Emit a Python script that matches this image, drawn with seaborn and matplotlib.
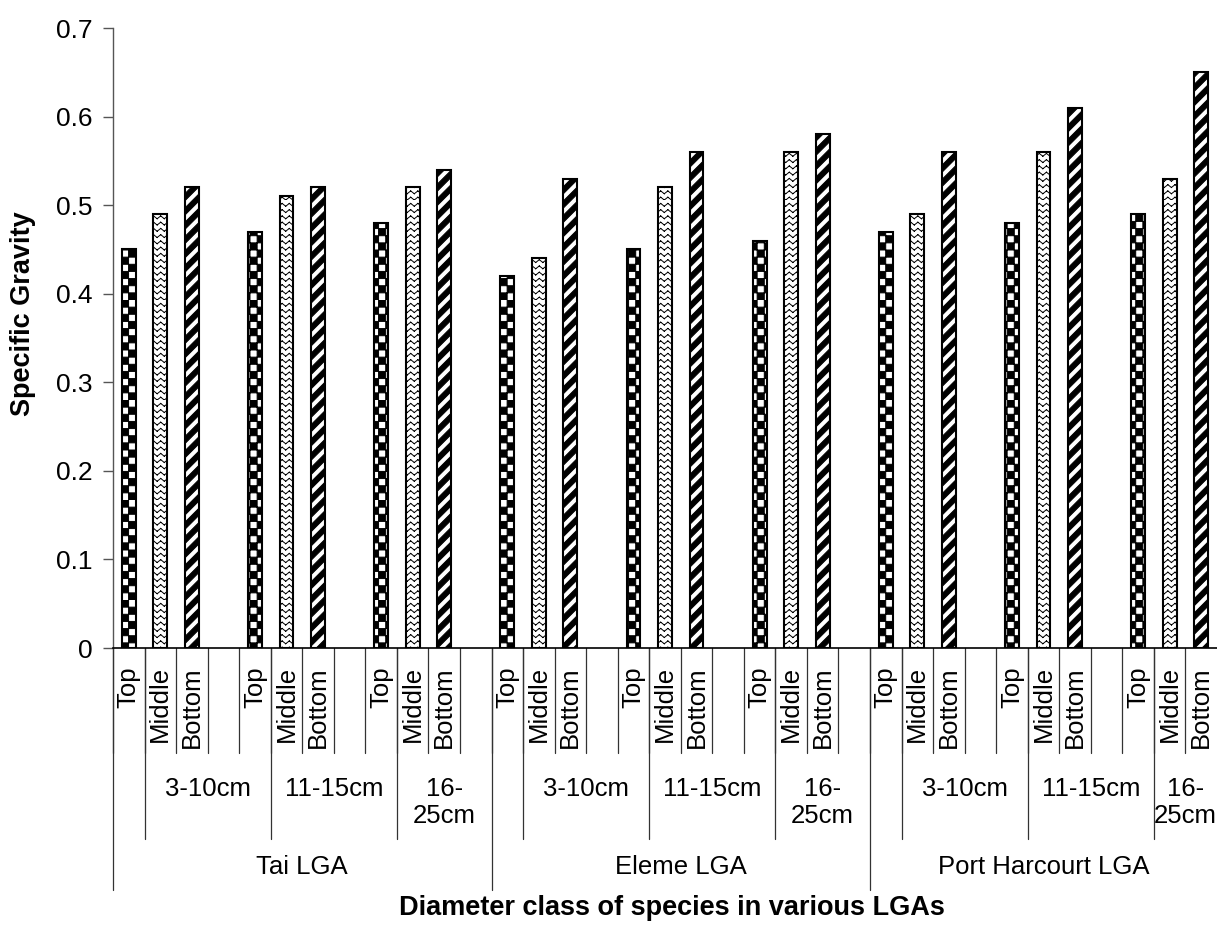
import numpy as np
import pandas as pd
import seaborn as sns
import matplotlib
matplotlib.use("Agg")
import matplotlib.pyplot as plt
import matplotlib.hatch as mhatch
from matplotlib.path import Path
from matplotlib.transforms import blended_transform_factory

# data
lgas = ["Tai LGA", "Eleme LGA", "Port Harcourt LGA"]
classes = ["3-10cm", "11-15cm", "16-25cm"]
class_text = ["3-10cm", "11-15cm", "16-\n25cm"]
positions = ["Top", "Middle", "Bottom"]
tai = [0.45, 0.49, 0.52, 0.47, 0.51, 0.52, 0.48, 0.52, 0.54]
eleme = [0.42, 0.44, 0.53, 0.45, 0.52, 0.56, 0.46, 0.56, 0.58]
port_harcourt = [0.47, 0.49, 0.56, 0.48, 0.56, 0.61, 0.49, 0.53, 0.65]
y_ticks = [0, 0.1, 0.2, 0.3, 0.4, 0.5, 0.6, 0.7]
y_tick_labels = ["0", "0.1", "0.2", "0.3", "0.4", "0.5", "0.6", "0.7"]


# Excel-like fill patterns as custom hatches
class CheckerHatch(mhatch.HatchPatternBase):
    n = 14

    def __init__(self, hatch, density):
        self.num_vertices = (self.n * self.n // 2) * 5 if "." in hatch else 0

    def set_vertices_and_codes(self, vertices, codes):
        s = 1.0 / self.n
        pts = []
        for i in range(self.n):
            for j in range(self.n):
                if (i + j) % 2 == 0:
                    x, y = i * s, j * s
                    pts += [(x, y), (x + s, y), (x + s, y + s), (x, y + s), (x, y)]
        vertices[:] = pts
        codes[:] = np.tile([Path.MOVETO, Path.LINETO, Path.LINETO,
                            Path.LINETO, Path.CLOSEPOLY], len(pts) // 5)


class StripeHatch(mhatch.HatchPatternBase):
    n = 7
    frac = 0.5

    def __init__(self, hatch, density):
        self.num_vertices = (2 * self.n + 1) * 5 if "/" in hatch else 0

    def set_vertices_and_codes(self, vertices, codes):
        s = 1.0 / self.n
        w = s * self.frac
        pts = []
        for k in range(-self.n, self.n + 1):
            y0 = k * s
            pts += [(0, y0), (1, y0 + 1), (1, y0 + 1 + w), (0, y0 + w), (0, y0)]
        vertices[:] = pts
        codes[:] = np.tile([Path.MOVETO, Path.LINETO, Path.LINETO,
                            Path.LINETO, Path.CLOSEPOLY], len(pts) // 5)


class ZigzagHatch(mhatch.HatchPatternBase):
    rows = 16
    cols = 14

    def __init__(self, hatch, density):
        self.num_vertices = self.rows * self.cols * 4 if "*" in hatch else 0

    def set_vertices_and_codes(self, vertices, codes):
        a = 0.45 / self.rows
        pts = []
        for r in range(self.rows):
            y = r / self.rows
            for c in range(self.cols):
                x0, xm, x1 = c / self.cols, (c + 0.5) / self.cols, (c + 1) / self.cols
                pts += [(x0, y), (xm, y + a), (xm, y + a), (x1, y)]
        vertices[:] = pts
        codes[:] = np.tile([Path.MOVETO, Path.LINETO], len(pts) // 2)


ht = mhatch._hatch_types
ht[ht.index(mhatch.SmallFilledCircles)] = CheckerHatch
ht[ht.index(mhatch.NorthEastHatch)] = StripeHatch
ht[ht.index(mhatch.Stars)] = ZigzagHatch

# build the 35 category slots (with an empty slot after each class group)
values = [tai, eleme, port_harcourt]
slots, rows = [], []
for li, lga in enumerate(lgas):
    for ci, cls in enumerate(classes):
        for pi, pos in enumerate(positions):
            name = f"{lga}|{cls}|{pos}"
            slots.append(name)
            rows.append({"slot": name, "position": pos, "value": values[li][ci * 3 + pi]})
        if not (li == len(lgas) - 1 and ci == len(classes) - 1):
            slots.append(f"{lga}|{cls}|gap")
df = pd.DataFrame(rows)

sns.set_theme(style="white")
plt.rcParams["font.family"] = ["Liberation Sans", "DejaVu Sans"]
plt.rcParams["hatch.linewidth"] = 0.7
plt.rcParams["text.color"] = "black"
plt.rcParams["ytick.labelcolor"] = "black"

W, H = 1217, 934
fig = plt.figure(figsize=(W / 100, H / 100), dpi=100)
ax = fig.add_axes([113 / W, 1 - 648 / H, (W - 113) / W, 620 / H])

sns.barplot(data=df, x="slot", y="value", hue="position", order=slots,
            hue_order=positions, dodge=False, width=0.44,
            palette=["white"] * 3, saturation=1, edgecolor="black",
            linewidth=1.5, errorbar=None, legend=False, ax=ax)
for cont, h in zip(ax.containers, [".", "*", "/"]):
    for bar in cont:
        bar.set_hatch(h)

ax.set_xlim(-0.5, len(slots) - 0.5)
ax.set_ylim(0, 0.7)
ax.set_yticks(y_ticks)
ax.set_yticklabels(y_tick_labels, fontsize=19, color="black")
ax.set_xticks([])
ax.set_xlabel("")
ax.set_ylabel("")
ax.tick_params(axis="y", direction="out", length=7, width=1, color="#555555",
               pad=8, left=True)
for s in ["top", "right"]:
    ax.spines[s].set_visible(False)
ax.spines["left"].set_color("#555555")
ax.spines["left"].set_linewidth(1.0)
ax.spines["bottom"].set_color("black")
ax.spines["bottom"].set_linewidth(1.2)

# multi-level category axis
tr = blended_transform_factory(ax.transData, fig.transFigure)
fy = lambda py: 1 - py / H
line_kw = dict(color="#333333", lw=0.9, transform=tr, clip_on=False)
last = len(slots) - 0.5

for i, name in enumerate(slots):
    ax.plot([i - 0.5, i - 0.5], [fy(648), fy(753)], **line_kw)
    pos = name.split("|")[2]
    if pos != "gap":
        ax.text(i, fy(666), pos, rotation=90, ha="center", va="top",
                fontsize=18.5, transform=tr)

for li, lga in enumerate(lgas):
    b = li * 12
    ax.plot([b - 0.5, b - 0.5], [fy(648), fy(890)], **line_kw)
    for ci, txt in enumerate(class_text):
        start = b + 0.5 + ci * 4
        ax.plot([start, start], [fy(648), fy(839)], **line_kw)
        end = start + 4 if ci < 2 else min(start + 3, last)
        ax.text((start + end) / 2, fy(777), txt, ha="center", va="top",
                fontsize=18.5, linespacing=1.15, transform=tr)
    end = min(b + 11.5, last)
    ax.text((b - 0.5 + end) / 2, fy(867), lga, ha="center", va="center",
            fontsize=18.5, transform=tr)

fig.text(672 / W, fy(908), "Diameter class of species in various LGAs",
         ha="center", va="center", fontsize=19.5, fontweight="bold")
fig.text(23 / W, fy(314), "Specific Gravity", rotation=90, ha="center",
         va="center", fontsize=19.5, fontweight="bold")

fig.savefig("out.png", dpi=100)
